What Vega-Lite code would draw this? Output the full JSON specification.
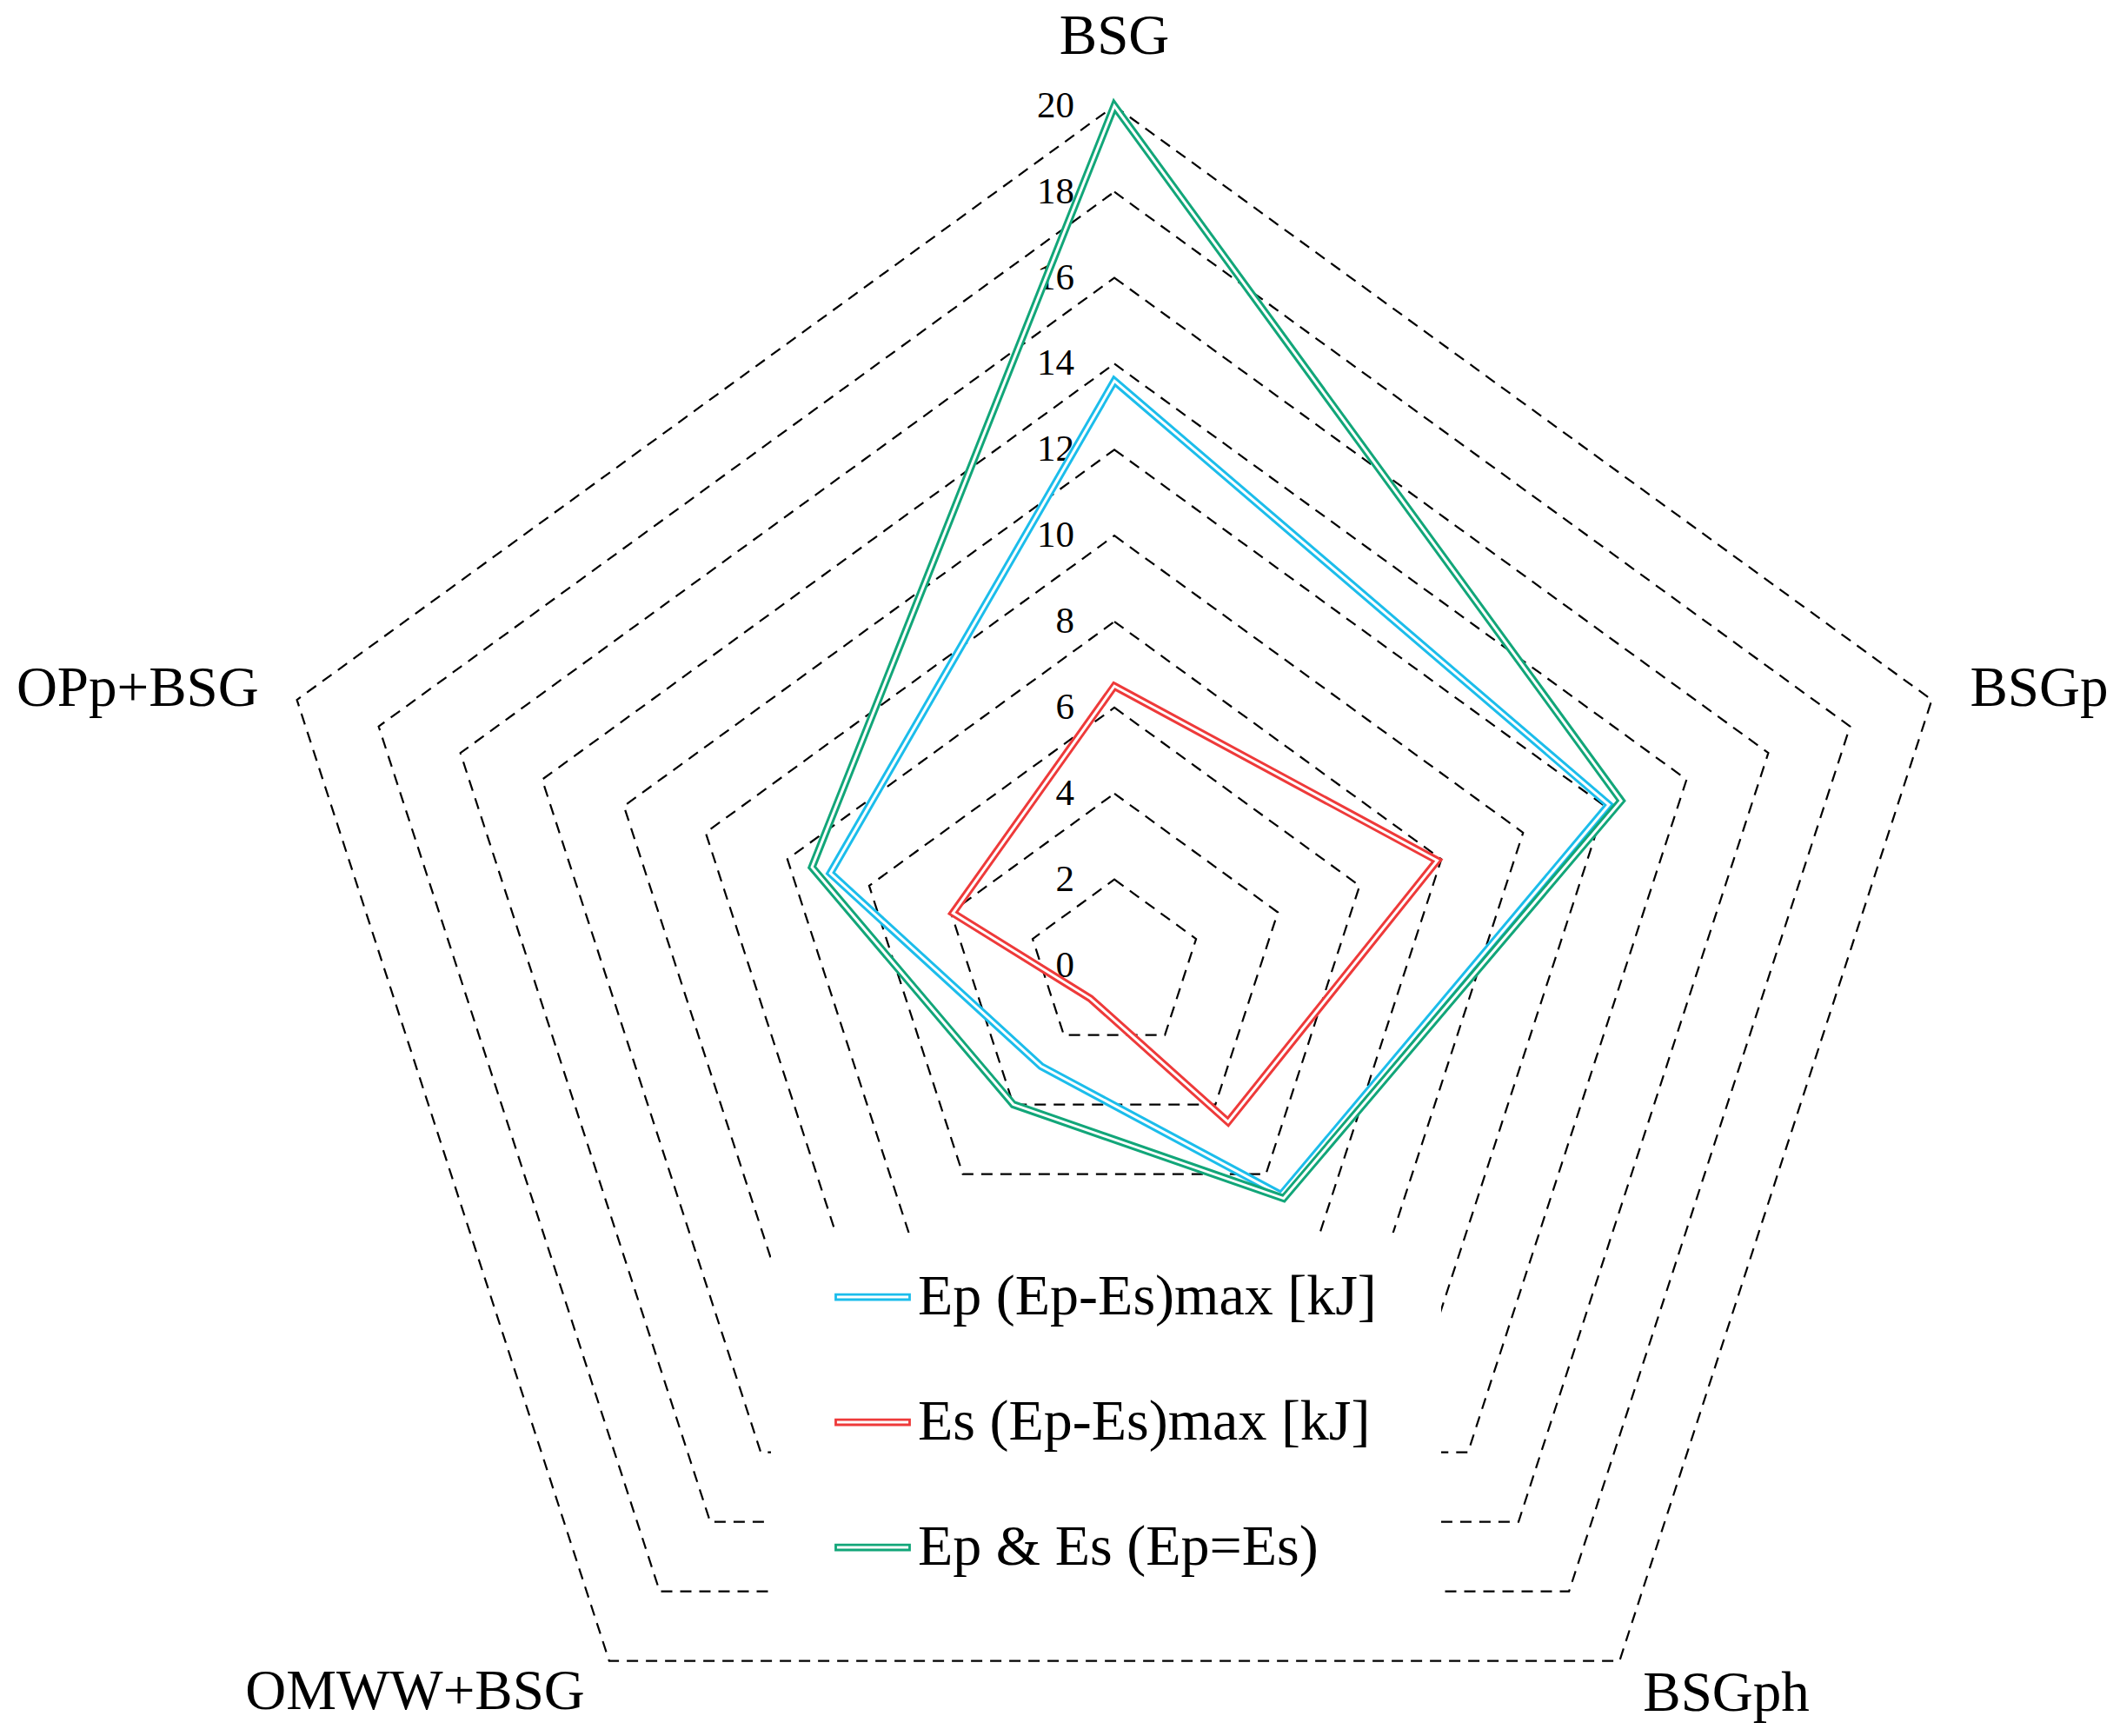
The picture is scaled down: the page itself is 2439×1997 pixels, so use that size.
{
  "$schema": "https://vega.github.io/schema/vega-lite/v6.json",
  "width": 2439,
  "height": 1997,
  "padding": 0,
  "autosize": {"type": "none"},
  "background": "white",
  "config": {
    "view": {"stroke": null},
    "legend": {
      "orient": "none",
      "legendX": 887,
      "legendY": 1418,
      "fillColor": "white",
      "padding": 30,
      "labelFont": "Liberation Serif",
      "labelFontSize": 66,
      "labelColor": "black",
      "labelOffset": 8,
      "labelLimit": 2000,
      "rowPadding": 67,
      "symbolType": "M-1,-0.07H1V0.07H-1Z M14.55,0L14.55,0",
      "symbolSize": 7225,
      "symbolStrokeWidth": 2.8,
      "symbolFillColor": "white",
      "titleOrient": "left",
      "titlePadding": 43,
      "titleFontSize": 1,
      "titleColor": "white"
    }
  },
  "datasets": {
    "series": [
      {"series": "Ep (Ep-Es)max [kJ]", "axis": "BSG", "idx": 0, "value": 13.6},
      {"series": "Ep (Ep-Es)max [kJ]", "axis": "BSGp", "idx": 1, "value": 12.1},
      {"series": "Ep (Ep-Es)max [kJ]", "axis": "BSGph", "idx": 2, "value": 6.6},
      {"series": "Ep (Ep-Es)max [kJ]", "axis": "OMWW+BSG", "idx": 3, "value": 2.9},
      {"series": "Ep (Ep-Es)max [kJ]", "axis": "OPp+BSG", "idx": 4, "value": 6.95},
      {"series": "Es (Ep-Es)max [kJ]", "axis": "BSG", "idx": 0, "value": 6.5},
      {"series": "Es (Ep-Es)max [kJ]", "axis": "BSGp", "idx": 1, "value": 7.9},
      {"series": "Es (Ep-Es)max [kJ]", "axis": "BSGph", "idx": 2, "value": 4.5},
      {"series": "Es (Ep-Es)max [kJ]", "axis": "OMWW+BSG", "idx": 3, "value": 0.95},
      {"series": "Es (Ep-Es)max [kJ]", "axis": "OPp+BSG", "idx": 4, "value": 3.95},
      {"series": "Ep & Es (Ep=Es)", "axis": "BSG", "idx": 0, "value": 20},
      {"series": "Ep & Es (Ep=Es)", "axis": "BSGp", "idx": 1, "value": 12.4},
      {"series": "Ep & Es (Ep=Es)", "axis": "BSGph", "idx": 2, "value": 6.7},
      {"series": "Ep & Es (Ep=Es)", "axis": "OMWW+BSG", "idx": 3, "value": 4.0},
      {"series": "Ep & Es (Ep=Es)", "axis": "OPp+BSG", "idx": 4, "value": 7.4}
    ],
    "axes": [
      {"axis": "BSG", "idx": 0},
      {"axis": "BSGp", "idx": 1},
      {"axis": "BSGph", "idx": 2},
      {"axis": "OMWW+BSG", "idx": 3},
      {"axis": "OPp+BSG", "idx": 4}
    ],
    "rings": [
      {"level": 2, "vertex": [0, 1, 2, 3, 4]},
      {"level": 4, "vertex": [0, 1, 2, 3, 4]},
      {"level": 6, "vertex": [0, 1, 2, 3, 4]},
      {"level": 8, "vertex": [0, 1, 2, 3, 4]},
      {"level": 10, "vertex": [0, 1, 2, 3, 4]},
      {"level": 12, "vertex": [0, 1, 2, 3, 4]},
      {"level": 14, "vertex": [0, 1, 2, 3, 4]},
      {"level": 16, "vertex": [0, 1, 2, 3, 4]},
      {"level": 18, "vertex": [0, 1, 2, 3, 4]},
      {"level": 20, "vertex": [0, 1, 2, 3, 4]}
    ],
    "ticks": [
      {"tick": 0}, {"tick": 2}, {"tick": 4}, {"tick": 6}, {"tick": 8}, {"tick": 10},
      {"tick": 12}, {"tick": 14}, {"tick": 16}, {"tick": 18}, {"tick": 20}
    ]
  },
  "layer": [
    {
      "data": {"name": "rings"},
      "transform": [
        {"flatten": ["vertex"]},
        {"calculate": "PI/2 - datum.vertex*2*PI/5", "as": "a"},
        {"calculate": "datum.level*cos(datum.a)", "as": "gx"},
        {"calculate": "datum.level*sin(datum.a)", "as": "gy"}
      ],
      "mark": {"type": "line", "interpolate": "linear-closed", "stroke": "black", "strokeWidth": 2.2, "strokeDash": [13, 9], "strokeJoin": "miter"},
      "encoding": {
        "x": {"field": "gx", "type": "quantitative", "scale": {"domain": [-25.93, 23.40], "nice": false, "zero": false}, "axis": null},
        "y": {"field": "gy", "type": "quantitative", "scale": {"domain": [-17.929, 22.464], "nice": false, "zero": false}, "axis": null},
        "detail": {"field": "level", "type": "nominal"},
        "order": {"field": "vertex", "type": "quantitative"}
      }
    },
    {
      "data": {"name": "ticks"},
      "mark": {"type": "text", "align": "right", "baseline": "middle", "dx": -46, "font": "Liberation Serif", "fontSize": 43, "color": "black"},
      "encoding": {
        "x": {"datum": 0, "type": "quantitative"},
        "y": {"field": "tick", "type": "quantitative"},
        "text": {"field": "tick", "type": "quantitative"}
      }
    },
    {
      "data": {"name": "series"},
      "transform": [
        {"filter": "datum.series == 'Ep (Ep-Es)max [kJ]'"},
        {"calculate": "PI/2 - datum.idx*2*PI/5", "as": "a"},
        {"calculate": "datum.value*cos(datum.a)", "as": "sx"},
        {"calculate": "datum.value*sin(datum.a)", "as": "sy"}
      ],
      "mark": {"type": "line", "interpolate": "linear-closed", "strokeWidth": 9, "strokeJoin": "miter"},
      "encoding": {
        "x": {"field": "sx", "type": "quantitative"},
        "y": {"field": "sy", "type": "quantitative"},
        "order": {"field": "idx", "type": "quantitative"},
        "stroke": {
          "field": "series", "type": "nominal",
          "scale": {"domain": ["Ep (Ep-Es)max [kJ]", "Es (Ep-Es)max [kJ]", "Ep & Es (Ep=Es)"], "range": ["#1CBDEB", "#EE3A3A", "#12A679"]},
          "legend": {
            "title": " ",
            "symbolType": "M-1,-0.07H1V0.07H-1Z M14.55,0L14.55,0",
            "symbolSize": 7225,
            "symbolStrokeWidth": 2.8,
            "symbolFillColor": "white"
          }
        }
      }
    },
    {
      "data": {"name": "series"},
      "transform": [
        {"filter": "datum.series == 'Ep (Ep-Es)max [kJ]'"},
        {"calculate": "PI/2 - datum.idx*2*PI/5", "as": "a"},
        {"calculate": "datum.value*cos(datum.a)", "as": "sx"},
        {"calculate": "datum.value*sin(datum.a)", "as": "sy"}
      ],
      "mark": {"type": "line", "interpolate": "linear-closed", "strokeWidth": 3, "stroke": "white", "strokeJoin": "miter"},
      "encoding": {
        "x": {"field": "sx", "type": "quantitative"},
        "y": {"field": "sy", "type": "quantitative"},
        "order": {"field": "idx", "type": "quantitative"}
      }
    },
    {
      "data": {"name": "series"},
      "transform": [
        {"filter": "datum.series == 'Es (Ep-Es)max [kJ]'"},
        {"calculate": "PI/2 - datum.idx*2*PI/5", "as": "a"},
        {"calculate": "datum.value*cos(datum.a)", "as": "sx"},
        {"calculate": "datum.value*sin(datum.a)", "as": "sy"}
      ],
      "mark": {"type": "line", "interpolate": "linear-closed", "strokeWidth": 9, "strokeJoin": "miter"},
      "encoding": {
        "x": {"field": "sx", "type": "quantitative"},
        "y": {"field": "sy", "type": "quantitative"},
        "order": {"field": "idx", "type": "quantitative"},
        "stroke": {"field": "series", "type": "nominal"}
      }
    },
    {
      "data": {"name": "series"},
      "transform": [
        {"filter": "datum.series == 'Es (Ep-Es)max [kJ]'"},
        {"calculate": "PI/2 - datum.idx*2*PI/5", "as": "a"},
        {"calculate": "datum.value*cos(datum.a)", "as": "sx"},
        {"calculate": "datum.value*sin(datum.a)", "as": "sy"}
      ],
      "mark": {"type": "line", "interpolate": "linear-closed", "strokeWidth": 3, "stroke": "white", "strokeJoin": "miter"},
      "encoding": {
        "x": {"field": "sx", "type": "quantitative"},
        "y": {"field": "sy", "type": "quantitative"},
        "order": {"field": "idx", "type": "quantitative"}
      }
    },
    {
      "data": {"name": "series"},
      "transform": [
        {"filter": "datum.series == 'Ep & Es (Ep=Es)'"},
        {"calculate": "PI/2 - datum.idx*2*PI/5", "as": "a"},
        {"calculate": "datum.value*cos(datum.a)", "as": "sx"},
        {"calculate": "datum.value*sin(datum.a)", "as": "sy"}
      ],
      "mark": {"type": "line", "interpolate": "linear-closed", "strokeWidth": 9, "strokeJoin": "miter"},
      "encoding": {
        "x": {"field": "sx", "type": "quantitative"},
        "y": {"field": "sy", "type": "quantitative"},
        "order": {"field": "idx", "type": "quantitative"},
        "stroke": {"field": "series", "type": "nominal"}
      }
    },
    {
      "data": {"name": "series"},
      "transform": [
        {"filter": "datum.series == 'Ep & Es (Ep=Es)'"},
        {"calculate": "PI/2 - datum.idx*2*PI/5", "as": "a"},
        {"calculate": "datum.value*cos(datum.a)", "as": "sx"},
        {"calculate": "datum.value*sin(datum.a)", "as": "sy"}
      ],
      "mark": {"type": "line", "interpolate": "linear-closed", "strokeWidth": 3, "stroke": "white", "strokeJoin": "miter"},
      "encoding": {
        "x": {"field": "sx", "type": "quantitative"},
        "y": {"field": "sy", "type": "quantitative"},
        "order": {"field": "idx", "type": "quantitative"}
      }
    },
    {
      "data": {"name": "axes"},
      "transform": [
        {"filter": "datum.axis == 'BSG'"},
        {"calculate": "PI/2 - datum.idx*2*PI/5", "as": "a"},
        {"calculate": "20*cos(datum.a)", "as": "lx"},
        {"calculate": "20*sin(datum.a)", "as": "ly"}
      ],
      "mark": {"type": "text", "align": "center", "baseline": "alphabetic", "dy": -60, "font": "Liberation Serif", "fontSize": 65, "color": "black"},
      "encoding": {
        "x": {"field": "lx", "type": "quantitative"},
        "y": {"field": "ly", "type": "quantitative"},
        "text": {"field": "axis", "type": "nominal"}
      }
    },
    {
      "data": {"name": "axes"},
      "transform": [
        {"filter": "datum.axis == 'BSGp'"},
        {"calculate": "PI/2 - datum.idx*2*PI/5", "as": "a"},
        {"calculate": "20*cos(datum.a)", "as": "lx"},
        {"calculate": "20*sin(datum.a)", "as": "ly"}
      ],
      "mark": {"type": "text", "align": "left", "baseline": "alphabetic", "dx": 44, "dy": 7, "font": "Liberation Serif", "fontSize": 65, "color": "black"},
      "encoding": {
        "x": {"field": "lx", "type": "quantitative"},
        "y": {"field": "ly", "type": "quantitative"},
        "text": {"field": "axis", "type": "nominal"}
      }
    },
    {
      "data": {"name": "axes"},
      "transform": [
        {"filter": "datum.axis == 'BSGph'"},
        {"calculate": "PI/2 - datum.idx*2*PI/5", "as": "a"},
        {"calculate": "20*cos(datum.a)", "as": "lx"},
        {"calculate": "20*sin(datum.a)", "as": "ly"}
      ],
      "mark": {"type": "text", "align": "left", "baseline": "alphabetic", "dx": 27, "dy": 57, "font": "Liberation Serif", "fontSize": 65, "color": "black"},
      "encoding": {
        "x": {"field": "lx", "type": "quantitative"},
        "y": {"field": "ly", "type": "quantitative"},
        "text": {"field": "axis", "type": "nominal"}
      }
    },
    {
      "data": {"name": "axes"},
      "transform": [
        {"filter": "datum.axis == 'OMWW+BSG'"},
        {"calculate": "PI/2 - datum.idx*2*PI/5", "as": "a"},
        {"calculate": "20*cos(datum.a)", "as": "lx"},
        {"calculate": "20*sin(datum.a)", "as": "ly"}
      ],
      "mark": {"type": "text", "align": "right", "baseline": "alphabetic", "dx": -28, "dy": 55, "font": "Liberation Serif", "fontSize": 65, "color": "black"},
      "encoding": {
        "x": {"field": "lx", "type": "quantitative"},
        "y": {"field": "ly", "type": "quantitative"},
        "text": {"field": "axis", "type": "nominal"}
      }
    },
    {
      "data": {"name": "axes"},
      "transform": [
        {"filter": "datum.axis == 'OPp+BSG'"},
        {"calculate": "PI/2 - datum.idx*2*PI/5", "as": "a"},
        {"calculate": "20*cos(datum.a)", "as": "lx"},
        {"calculate": "20*sin(datum.a)", "as": "ly"}
      ],
      "mark": {"type": "text", "align": "right", "baseline": "alphabetic", "dx": -44, "dy": 7, "font": "Liberation Serif", "fontSize": 65, "color": "black"},
      "encoding": {
        "x": {"field": "lx", "type": "quantitative"},
        "y": {"field": "ly", "type": "quantitative"},
        "text": {"field": "axis", "type": "nominal"}
      }
    }
  ]
}
